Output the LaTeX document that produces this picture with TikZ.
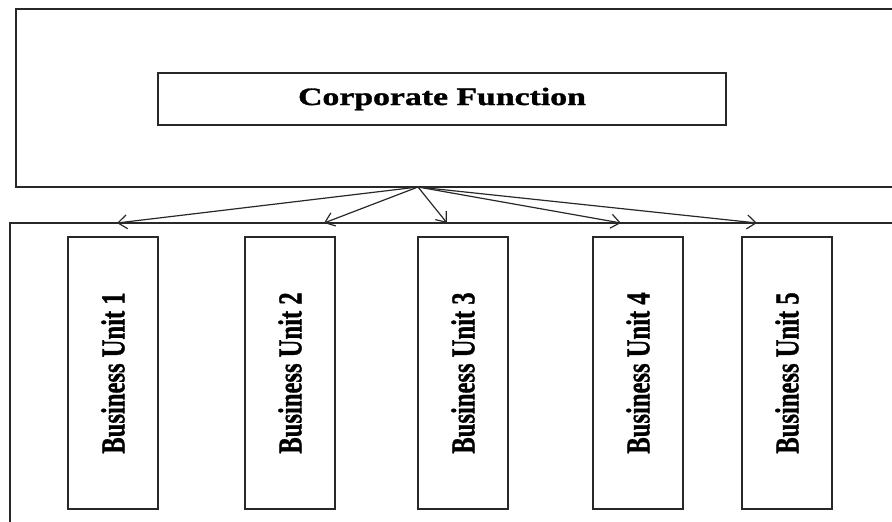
\documentclass[tikz,border=0pt]{standalone}
\usepackage{fontspec}
\setmainfont{Liberation Serif}
\newfontfamily\heavyserif{Liberation Serif Bold}[FakeBold=1.2]
\usetikzlibrary{arrows.meta}
\definecolor{linegray}{RGB}{40,40,40}
\newcommand{\butext}[1]{\rotatebox{90}{\scalebox{1}[1.35]{\heavyserif\fontsize{24.6}{27}\selectfont #1}}}
\begin{document}
\begin{tikzpicture}[x=1pt,y=-1pt,
  box/.style={draw=linegray, line width=1.3pt, inner sep=0pt, outer sep=0pt, anchor=north west},
  bu/.style={box, minimum width=90pt, minimum height=272pt},
  arr/.style={draw=linegray, line width=1.2pt, -{Straight Barb[length=9pt,width=14pt,line width=1.2pt]}}]
\useasboundingbox (0,0) rectangle (892,522);
\clip (0,0) rectangle (892,522);
% outer frames
\node[box, minimum width=890pt, minimum height=178pt] (top) at (16,9) {};
\node[box, minimum width=900pt, minimum height=302pt] (bottom) at (10,223) {};
% corporate function
\node[box, minimum width=568pt, minimum height=52pt] (corp) at (158,73)
  {\scalebox{1.35}[1]{\heavyserif\fontsize{25}{28}\selectfont Corporate\ Function}};
% business units
\node[bu] (b1) at (68,237) {\butext{Business Unit 1}};
\node[bu] (b2) at (245,237) {\butext{Business Unit 2}};
\node[bu] (b3) at (418,237) {\butext{Business Unit 3}};
\node[bu] (b4) at (593,237) {\butext{Business Unit 4}};
\node[bu] (b5) at (742,237) {\butext{Business Unit 5}};
% arrows
\coordinate (hub) at (418,187);
\coordinate (t1) at (117,223);
\coordinate (t2) at (324,223);
\coordinate (t3) at (447,223);
\coordinate (t4) at (621,223);
\coordinate (t5) at (757,223);
\foreach \t in {t1,t2,t3,t4,t5} \draw[arr] (hub) -- (\t);
\end{tikzpicture}
\end{document}
